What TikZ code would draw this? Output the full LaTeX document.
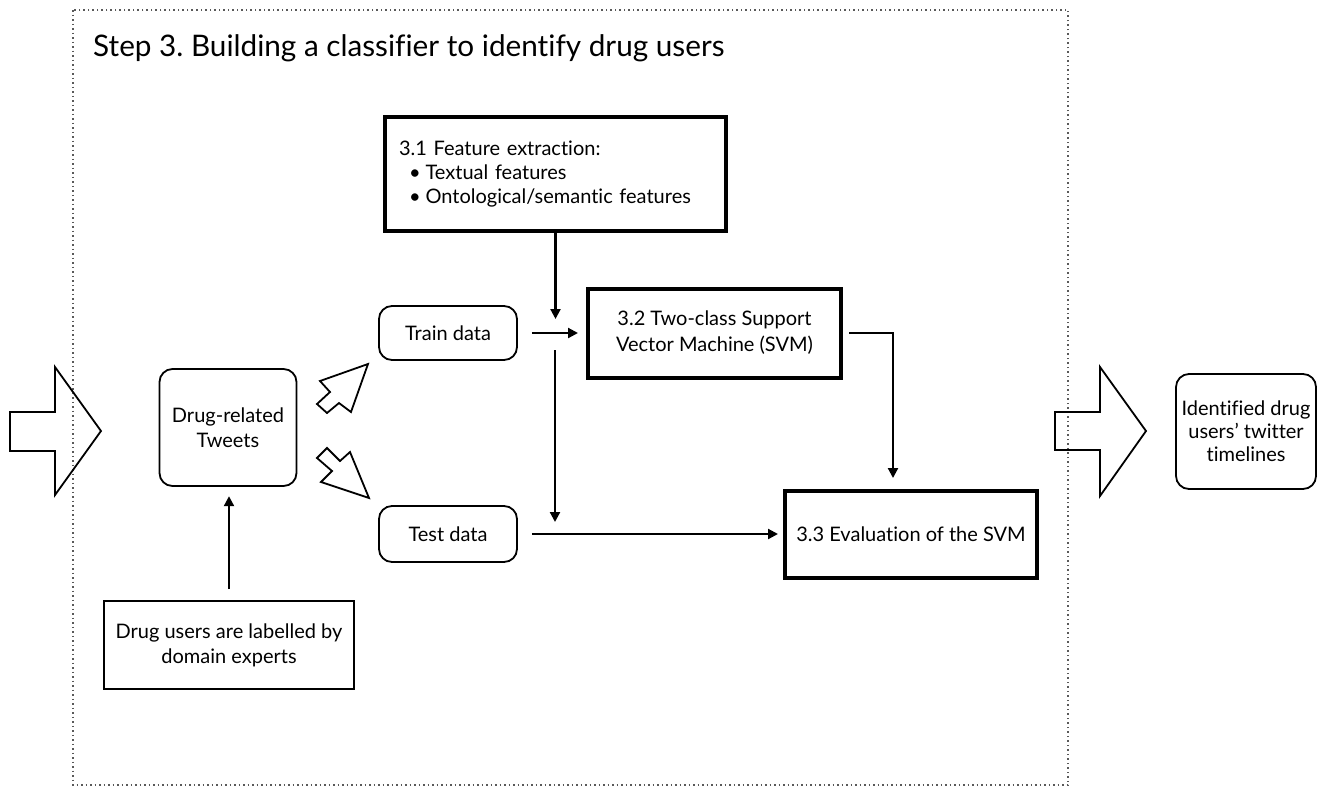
\documentclass[tikz,border=0pt]{standalone}
\usepackage{fontspec}
\setmainfont{Lato}[Ligatures=NoCommon]
\usetikzlibrary{arrows.meta}

\begin{document}
\frenchspacing
\begin{tikzpicture}[x=1pt,y=-1pt,
  every node/.style={font=\fontsize{20}{25}\selectfont, inner sep=0pt, align=center},
  rbox/.style={draw, rounded corners=13pt, line width=1.8pt},
  pbox/.style={draw, line width=1.6pt},
  tbox/.style={draw, line width=4pt},
  conn/.style={line width=2.2pt, -{Triangle[length=10pt,width=10pt]}},
  block/.style={draw, line width=1.8pt, line join=miter},
  frame/.style={draw=gray!70!black, line width=1.5pt, dash pattern=on 1.5pt off 3pt}
]
\useasboundingbox (0,0) rectangle (1329,787);

% outer dotted frame of step 3
\draw[frame] (73,10) rectangle (1068,785);

% heading
\node[anchor=base west, font=\fontsize{29.7}{36}\selectfont] (title) at (93,56)
  {Step 3. Building a classifier to identify drug users};

% boxes
\node[tbox, minimum width=341pt, minimum height=114pt, text width=313pt,
      inner xsep=14pt, align=left, font=\fontsize{20}{24}\selectfont] (f31) at (555.5,174)
  {3.1 Feature extraction:\\
   \hspace*{10pt}\textbullet\hspace{5pt}Textual features\\
   \hspace*{10pt}\textbullet\hspace{5pt}Ontological/semantic features};
\node[tbox, minimum width=253pt, minimum height=89pt, font=\fontsize{20}{26}\selectfont] (svm) at (714.5,333)
  {3.2 Two-class Support\\Vector Machine (SVM)};
\node[tbox, minimum width=252pt, minimum height=87pt] (eval) at (911,534)
  {3.3 Evaluation of the SVM};
\node[rbox, minimum width=138pt, minimum height=54pt] (train) at (448,333) {Train data};
\node[rbox, minimum width=138pt, minimum height=56pt] (test) at (448,534) {Test data};
\node[rbox, minimum width=137pt, minimum height=117pt] (tweets) at (228,427.5)
  {Drug-related\\Tweets};
\node[pbox, minimum width=250pt, minimum height=88pt] (labels) at (229,645)
  {Drug users are labelled by\\domain experts};
\node[rbox, minimum width=140pt, minimum height=115pt, font=\fontsize{20}{23}\selectfont] (ident) at (1246,431.5)
  {Identified drug\\users’ twitter\\timelines};

% connectors
\coordinate (v1) at (555,350);
\coordinate (v2) at (555,522);
\coordinate (etop) at (893,478);
\draw[conn] (f31.south) -- ++(0,86);
\draw[conn] ([xshift=14pt]train.east) -- ([xshift=-8pt]svm.west);
\draw[conn] (v1) -- (v2);
\draw[conn] ([xshift=14pt]test.east) -- ([xshift=-5pt]eval.west);
\draw[conn] ([xshift=6pt]svm.east) -| (etop);
\draw[conn] ([yshift=11pt]labels.north) -- ++(0,-93);

% block arrows
\draw[block] (10,412) -- (55,412) -- (55,367) -- (101,431) -- (55,495) -- (55,451) -- (10,451) -- cycle;
\draw[block] (1055,412) -- (1100,412) -- (1100,367) -- (1146,431) -- (1100,496) -- (1100,450) -- (1055,450) -- cycle;
\draw[block] (368,364) -- (320,381) -- (330,392) -- (317,404) -- (327,413) -- (339,403) -- (351,412) -- cycle;
\draw[block] (369,498) -- (321,482) -- (332,471) -- (317,458) -- (327,448) -- (340,461) -- (350,452) -- cycle;
\end{tikzpicture}
\end{document}
